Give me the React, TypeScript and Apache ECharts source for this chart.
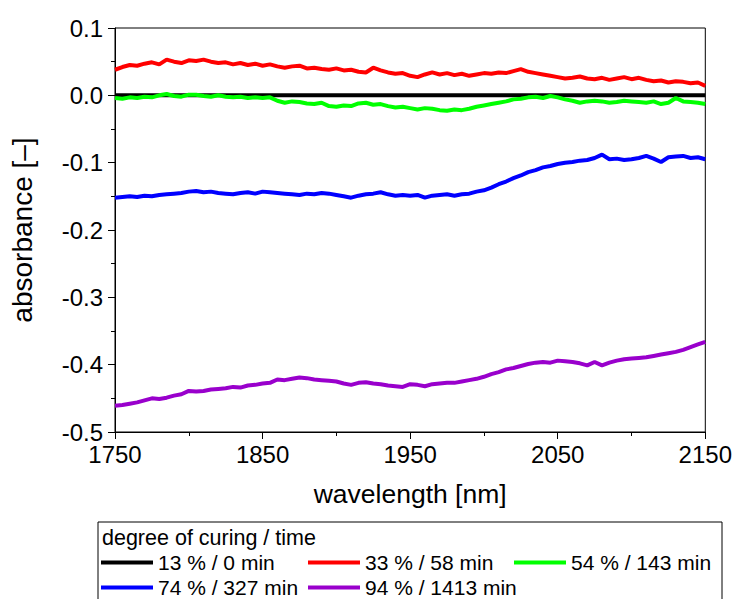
import React, { useEffect, useRef } from "react";
import * as echarts from "echarts";

const wavelengths: number[] = [
  1750, 1755, 1760, 1765, 1770, 1775, 1780, 1785, 1790, 1795,
  1800, 1805, 1810, 1815, 1820, 1825, 1830, 1835, 1840, 1845,
  1850, 1855, 1860, 1865, 1870, 1875, 1880, 1885, 1890, 1895,
  1900, 1905, 1910, 1915, 1920, 1925, 1930, 1935, 1940, 1945,
  1950, 1955, 1960, 1965, 1970, 1975, 1980, 1985, 1990, 1995,
  2000, 2005, 2010, 2015, 2020, 2025, 2030, 2035, 2040, 2045,
  2050, 2055, 2060, 2065, 2070, 2075, 2080, 2085, 2090, 2095,
  2100, 2105, 2110, 2115, 2120, 2125, 2130, 2135, 2140, 2145,
  2150,
];

const s13: number[] = [
  0, 0, 0, 0, 0, 0, 0, 0, 0, 0,
  0, 0, 0, 0, 0, 0, 0, 0, 0, 0,
  0, 0, 0, 0, 0, 0, 0, 0, 0, 0,
  0, 0, 0, 0, 0, 0, 0, 0, 0, 0,
  0, 0, 0, 0, 0, 0, 0, 0, 0, 0,
  0, 0, 0, 0, 0, 0, 0, 0, 0, 0,
  0, 0, 0, 0, 0, 0, 0, 0, 0, 0,
  0, 0, 0, 0, 0, 0, 0, 0, 0, 0,
  0,
];

const s33: number[] = [
  0.038, 0.042, 0.045, 0.044, 0.047, 0.049, 0.046, 0.053, 0.05, 0.048,
  0.052, 0.051, 0.053, 0.05, 0.048, 0.049, 0.046, 0.048, 0.045, 0.047,
  0.044, 0.046, 0.043, 0.041, 0.043, 0.044, 0.04, 0.041, 0.039, 0.038,
  0.04, 0.037, 0.038, 0.035, 0.034, 0.041, 0.037, 0.034, 0.032, 0.033,
  0.029, 0.027, 0.031, 0.034, 0.031, 0.033, 0.03, 0.032, 0.029, 0.031,
  0.033, 0.032, 0.034, 0.033, 0.036, 0.039, 0.035, 0.033, 0.031, 0.029,
  0.027, 0.025, 0.026, 0.028, 0.025, 0.024, 0.026, 0.023, 0.025, 0.027,
  0.024, 0.026, 0.023, 0.021, 0.022, 0.019, 0.021, 0.02, 0.018, 0.019,
  0.014,
];

const s54: number[] = [
  -0.004, -0.005, -0.003, -0.004, -0.002, -0.003, 0.0, 0.002, -0.001, -0.002,
  0.001, 0.001, -0.001, -0.002, 0.0, -0.002, -0.003, -0.002, -0.004, -0.003,
  -0.004, -0.003, -0.008, -0.011, -0.009, -0.01, -0.012, -0.013, -0.011, -0.016,
  -0.017, -0.015, -0.016, -0.012, -0.011, -0.014, -0.013, -0.016, -0.018, -0.017,
  -0.019, -0.021, -0.019, -0.02, -0.022, -0.023, -0.021, -0.022, -0.02, -0.017,
  -0.015, -0.013, -0.011, -0.009, -0.006, -0.005, -0.003, -0.002, -0.004, -0.001,
  -0.003, -0.006, -0.008, -0.011, -0.009, -0.008, -0.009, -0.011, -0.01, -0.008,
  -0.009, -0.01, -0.011, -0.009, -0.013, -0.011, -0.004, -0.009, -0.01, -0.011,
  -0.013,
];

const s74: number[] = [
  -0.152, -0.151, -0.15, -0.151, -0.149, -0.15, -0.148, -0.147, -0.146, -0.145,
  -0.143, -0.142, -0.144, -0.143, -0.145, -0.146, -0.147, -0.145, -0.144, -0.146,
  -0.143, -0.144, -0.145, -0.146, -0.147, -0.148, -0.146, -0.147, -0.145, -0.146,
  -0.148, -0.15, -0.152, -0.149, -0.147, -0.146, -0.144, -0.147, -0.149, -0.148,
  -0.149, -0.148, -0.152, -0.149, -0.148, -0.147, -0.149, -0.147, -0.146, -0.143,
  -0.141, -0.137, -0.132, -0.128, -0.123, -0.119, -0.114, -0.111, -0.107, -0.105,
  -0.102, -0.1, -0.099, -0.097, -0.096, -0.093, -0.088, -0.095, -0.094, -0.096,
  -0.095, -0.093, -0.09, -0.094, -0.099, -0.092, -0.091, -0.09, -0.093, -0.092,
  -0.095,
];

const s94: number[] = [
  -0.461, -0.46, -0.458, -0.456, -0.453, -0.45, -0.451, -0.449, -0.446, -0.444,
  -0.439, -0.44, -0.439, -0.437, -0.436, -0.435, -0.433, -0.434, -0.431, -0.43,
  -0.428, -0.427, -0.422, -0.423, -0.421, -0.419, -0.42, -0.422, -0.423, -0.424,
  -0.425, -0.428, -0.43, -0.427, -0.426, -0.428, -0.429, -0.431, -0.432, -0.433,
  -0.429, -0.43, -0.432, -0.429, -0.428, -0.427, -0.427, -0.425, -0.423, -0.421,
  -0.418, -0.414, -0.411, -0.407, -0.405, -0.402, -0.399, -0.397, -0.396, -0.397,
  -0.394, -0.395, -0.396, -0.398, -0.401, -0.396, -0.401, -0.397, -0.394, -0.392,
  -0.391, -0.39, -0.389, -0.387, -0.385, -0.383, -0.381, -0.378, -0.374, -0.37,
  -0.366,
];

const seriesNames: string[] = [
  "13 % / 0 min",
  "33 % / 58 min",
  "54 % / 143 min",
  "74 % / 327 min",
  "94 % / 1413 min",
];
const seriesColors: string[] = ["#000000", "#ff0000", "#00ff00", "#0000ff", "#9900cc"];
const seriesValues: number[][] = [s13, s33, s54, s74, s94];

const xTicks = { min: 1750, max: 2150, interval: 100 };
const yTicks = { min: -0.5, max: 0.1, interval: 0.1 };

const legendTitle = "degree of curing / time";
const xTitle = "wavelength [nm]";
const yTitle = "absorbance [–]";

const FONT = "'Liberation Sans', Arial, Helvetica, sans-serif";

export default function App() {
  const ref = useRef<HTMLDivElement>(null);

  useEffect(() => {
    if (!ref.current) return;
    const chart = echarts.init(ref.current, undefined, { renderer: "svg" });

    const legendPos = [
      { left: 101, top: 552 },
      { left: 308, top: 552 },
      { left: 514, top: 552 },
      { left: 101, top: 577 },
      { left: 308, top: 577 },
    ];

    const option: any = {
      animation: false,
      backgroundColor: "#ffffff",
      textStyle: { fontFamily: FONT },
      grid: {
        left: 115,
        top: 28,
        width: 592,
        height: 404,
        show: true,
        borderColor: "#000",
        borderWidth: 1,
        backgroundColor: "transparent",
      },
      xAxis: {
        type: "value",
        min: xTicks.min,
        max: xTicks.max,
        interval: xTicks.interval,
        name: xTitle,
        nameLocation: "middle",
        nameGap: 48,
        nameTextStyle: { fontSize: 26.5, color: "#000", fontFamily: FONT },
        axisLine: { show: true, onZero: false, lineStyle: { color: "#000", width: 1 } },
        axisTick: { show: true, length: 7, lineStyle: { color: "#000" } },
        minorTick: { show: true, splitNumber: 2, length: 4, lineStyle: { color: "#000" } },
        splitLine: { show: false },
        axisLabel: {
          fontSize: 24,
          color: "#000",
          margin: 10,
          fontFamily: FONT,
          formatter: (v: number) => String(Math.round(v)),
        },
      },
      yAxis: {
        type: "value",
        min: yTicks.min,
        max: yTicks.max,
        interval: yTicks.interval,
        name: yTitle,
        nameLocation: "middle",
        nameGap: 79,
        nameTextStyle: { fontSize: 28, color: "#000", fontFamily: FONT },
        axisLine: { show: true, onZero: false, lineStyle: { color: "#000", width: 1 } },
        axisTick: { show: true, length: 7, lineStyle: { color: "#000" } },
        minorTick: { show: true, splitNumber: 2, length: 4, lineStyle: { color: "#000" } },
        splitLine: { show: false },
        axisLabel: {
          fontSize: 24,
          color: "#000",
          margin: 12,
          fontFamily: FONT,
          formatter: (v: number) => (Math.abs(v) < 1e-9 ? "0.0" : v.toFixed(1)),
        },
      },
      legend: seriesNames.map((n, i) => ({
        data: [n],
        left: legendPos[i].left,
        top: legendPos[i].top,
        padding: 0,
        itemGap: 0,
        itemWidth: 52,
        itemHeight: 4,
        icon: "rect",
        selectedMode: false,
        textStyle: { fontSize: 21, color: "#000", fontFamily: FONT, padding: [0, 0, 0, 0] },
      })),
      graphic: [
        {
          type: "rect",
          shape: { x: 98, y: 522, width: 624, height: 100 },
          style: { fill: "none", stroke: "#000", lineWidth: 1 },
          silent: true,
        },
        {
          type: "text",
          x: 102,
          y: 538,
          style: {
            text: legendTitle,
            fontSize: 21.5,
            fontFamily: FONT,
            fill: "#000",
            verticalAlign: "middle",
            align: "left",
          },
          silent: true,
        },
      ],
      series: seriesNames.map((n, i) => ({
        name: n,
        type: "line",
        showSymbol: false,
        symbol: "none",
        color: seriesColors[i],
        lineStyle: { color: seriesColors[i], width: 4 },
        data: wavelengths.map((w, k) => [w, seriesValues[i][k]]),
        z: 2 + i,
      })),
    };

    chart.setOption(option);
    return () => chart.dispose();
  }, []);

  return (
    <div
      ref={ref}
      style={{ position: "fixed", left: 0, top: 0, width: 735, height: 599 }}
    />
  );
}
